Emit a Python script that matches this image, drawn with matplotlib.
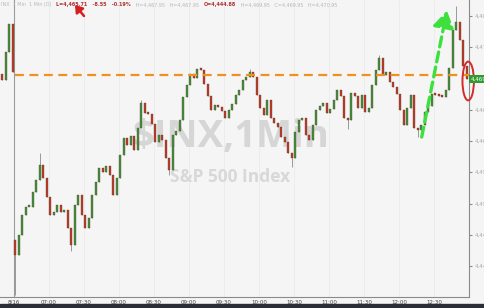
import matplotlib
matplotlib.use("Agg")
import matplotlib.pyplot as plt
from matplotlib.patches import Ellipse, Rectangle, FancyArrowPatch
import numpy as np

# ---------------- data ----------------
# previous session tail (minutes relative to 06:30 on 8/16)
prev_minutes = [-10, -7, -4, -1]
prev_open_first = 4470.7
prev_closes = [4469.8, 4474.2, 4478.7, 4471.0]

# 8/16 session, 3-minute sampled closes starting 06:30
day_open_first = 4444.2
day_closes = [
    4441.8, 4445.0, 4448.2, 4449.4, 4449.4, 4451.8, 4453.8, 4456.2, 4454.1, 4451.0,
    4448.2, 4448.6, 4449.8, 4448.6, 4449.0, 4446.1, 4443.4, 4449.8, 4451.4, 4448.2,
    4446.1, 4447.7, 4451.4, 4453.4, 4455.7, 4455.0, 4456.0, 4454.6, 4451.4, 4454.1,
    4457.8, 4460.5, 4459.4, 4460.8, 4458.6, 4462.1, 4466.1, 4464.5, 4464.3, 4462.7,
    4459.8, 4461.0, 4460.2, 4457.3, 4455.4, 4461.0, 4461.6, 4463.4, 4467.0, 4469.0,
    4470.7, 4470.1, 4471.5, 4471.4, 4469.1, 4467.2, 4465.0, 4465.8, 4465.4, 4464.8,
    4463.7, 4465.0, 4465.9, 4467.4, 4468.2, 4469.8, 4470.2, 4471.0, 4470.2, 4467.4,
    4465.3, 4464.2, 4466.6, 4463.7, 4462.9, 4462.2, 4460.6, 4459.8, 4458.1, 4457.3,
    4461.4, 4463.4, 4463.7, 4461.0, 4460.2, 4462.6, 4465.0, 4465.6, 4466.1, 4464.5,
    4465.1, 4466.6, 4468.2, 4467.2, 4463.7, 4463.4, 4467.7, 4467.2, 4465.3, 4467.4,
    4464.6, 4465.3, 4469.0, 4471.4, 4473.3, 4470.6, 4471.0, 4469.4, 4468.6, 4467.5,
    4465.0, 4462.6, 4465.3, 4467.4, 4462.1, 4461.8, 4462.6, 4464.6, 4465.6, 4467.5,
    4467.4, 4467.2, 4467.0, 4468.2, 4471.7, 4477.8, 4479.0, 4476.2, 4472.0, 4469.9,
]
step_minutes = 3
# notable wick extremes (candle index in day session -> price)
wick_low_idx = [0, 79, 16, 95, 115, 44]
wick_low_val = [4435.3, 4455.8, 4442.4, 4462.0, 4460.6, 4454.6]
wick_high_idx = [7, 36, 126, 104, 67]
wick_high_val = [4458.1, 4466.6, 4481.6, 4473.8, 4471.6]

prev_close_level = 4470.6
last_price = 4469.9

tick_minutes = [0, 30, 60, 90, 120, 150, 180, 210, 240, 270, 300, 330, 360]
tick_labels = ["8/16", "07:00", "07:30", "08:00", "08:30", "09:00", "09:30",
               "10:00", "10:30", "11:00", "11:30", "12:00", "12:30"]
price_ticks = [4480, 4475, 4470, 4465, 4460, 4455, 4450, 4445, 4440]

header_parts = [("INX  1 Min  1 Min (O)   ", "#b8b8b8"),
                ("L=4,465.71   -8.55   -0.19%", "#b03030"),
                ("   H=4,467.95   H=4,467.95   ", "#b8b8b8"),
                ("O=4,444.88", "#b03030"),
                ("   H=4,469.95   C=4,469.95   H=4,470.95", "#b8b8b8")]

# ---------------- figure ----------------
W, H = 485, 308
fig = plt.figure(figsize=(W / 100, H / 100), dpi=100)
fig.patch.set_facecolor("#f5f5f5")
ax = fig.add_axes([0, 11 / H, 469 / W, 297 / H])
ax.set_facecolor("#f5f5f5")

GREEN = "#3d9440"
RED = "#c0392b"

def draw_candles(minutes, opens, closes, lows=None, highs=None):
    for i, (m, o, c) in enumerate(zip(minutes, opens, closes)):
        col = GREEN if c >= o else RED
        lo = min(o, c) if lows is None else lows[i]
        hi = max(o, c) if highs is None else highs[i]
        ax.vlines(m, lo, hi, color="#8a8a8a", lw=0.6, zorder=3)
        b = min(o, c)
        h = max(abs(c - o), 0.3)
        ax.bar(m, h, bottom=b, width=1.9, color=col, edgecolor="#5a4020",
               linewidth=0.25, zorder=4)

# previous session
p_opens = [prev_open_first] + prev_closes[:-1]
draw_candles(prev_minutes, p_opens, prev_closes)

# day session
n = len(day_closes)
d_minutes = [i * step_minutes + 1 for i in range(n)]
d_opens = [day_open_first] + day_closes[:-1]
d_lows = [min(o, c) for o, c in zip(d_opens, day_closes)]
d_highs = [max(o, c) for o, c in zip(d_opens, day_closes)]
for i, v in zip(wick_low_idx, wick_low_val):
    d_lows[i] = v
for i, v in zip(wick_high_idx, wick_high_val):
    d_highs[i] = v
draw_candles(d_minutes, d_opens, day_closes, d_lows, d_highs)

# axis limits
ax.set_xlim(-12, 390)
ax.set_ylim(4435.04, 4482.56)

# vertical grid
for m in tick_minutes:
    ax.axvline(m, color="#ebebeb", lw=0.6, zorder=0)
ax.axvline(0, color="#9a9a9a", lw=0.8, zorder=1)

# previous close line
ax.hlines(prev_close_level, 0.5, 390, colors="#f0901e", linestyles=(0, (4, 2.5)),
          lw=1.6, zorder=5)

# watermark
ax.text(0.4925, 0.54, "$INX,1Min", transform=ax.transAxes, fontsize=27.5,
        fontweight="bold", color="#d6d6d6", ha="center", va="center", zorder=2,
        family="Open Sans")
ax.text(0.49, 0.404, "S&P 500 Index", transform=ax.transAxes, fontsize=12.5,
        fontweight="bold", color="#d8d8d8", ha="center", va="center", zorder=2,
        family="Open Sans")

# green dashed arrow
arr = FancyArrowPatch((349, 4460.2), (371.5, 4481.3),
                      arrowstyle="-|>,head_length=4,head_width=2.5",
                      color="#3ee03e", lw=2.4, linestyle=(0, (3, 1.6)),
                      mutation_scale=2.5, zorder=6)
ax.add_patch(arr)

# red ellipse around the close
ell = Ellipse((389.3, last_price - 0.3), width=9.8, height=6.2, fill=False,
              edgecolor="#d42a2a", lw=1.4, zorder=7, clip_on=False)
ax.add_patch(ell)

# axes styling
for s in ["top", "left"]:
    ax.spines[s].set_visible(False)
ax.spines["right"].set_color("#8a8a8a")
ax.spines["right"].set_linewidth(0.8)
ax.spines["bottom"].set_color("#8a8a8a")
ax.spines["bottom"].set_linewidth(0.8)
ax.yaxis.tick_right()
ax.set_yticks(price_ticks)
ax.set_yticklabels(["" if abs(p - last_price) < 2 else f"{p:,.2f}" for p in price_ticks],
                   fontsize=4.0, color="#a8a8a8")
ax.tick_params(axis="y", length=2, color="#8a8a8a", pad=2)
ax.set_xticks(tick_minutes)
ax.set_xticklabels(tick_labels, fontsize=4.0, color="#404040")
ax.tick_params(axis="x", length=0, pad=2)

# last price tag
ax.text(391.2, last_price, f"{last_price:,.2f}", fontsize=4.0, color="white",
        va="center", ha="left", clip_on=False, zorder=8,
        bbox=dict(boxstyle="square,pad=0.3", fc="#2f9a2f", ec="none"))

# header text
xpos = 0.003
for txt, col in header_parts:
    t = fig.text(xpos, 0.992, txt, fontsize=3.5, color=col, ha="left", va="top",
                 fontweight="bold" if col != "#b8b8b8" else "normal")
    fig.canvas.draw()
    bb = t.get_window_extent()
    xpos = bb.x1 / W

# small red pointer arrow in the header
ax.annotate("", xy=(75, H - 5), xytext=(84, H - 16), xycoords="figure pixels",
            textcoords="figure pixels", annotation_clip=False,
            arrowprops=dict(arrowstyle="-|>,head_length=0.5,head_width=0.35",
                            color="#d42020", lw=1.8, mutation_scale=8,
                            shrinkA=0, shrinkB=0))

# bottom dark bar
fig.patches.append(Rectangle((0, 0), 1, 4 / H, transform=fig.transFigure,
                             color="#2b2e36", zorder=10))

fig.savefig("out.png", dpi=100, facecolor=fig.get_facecolor())
